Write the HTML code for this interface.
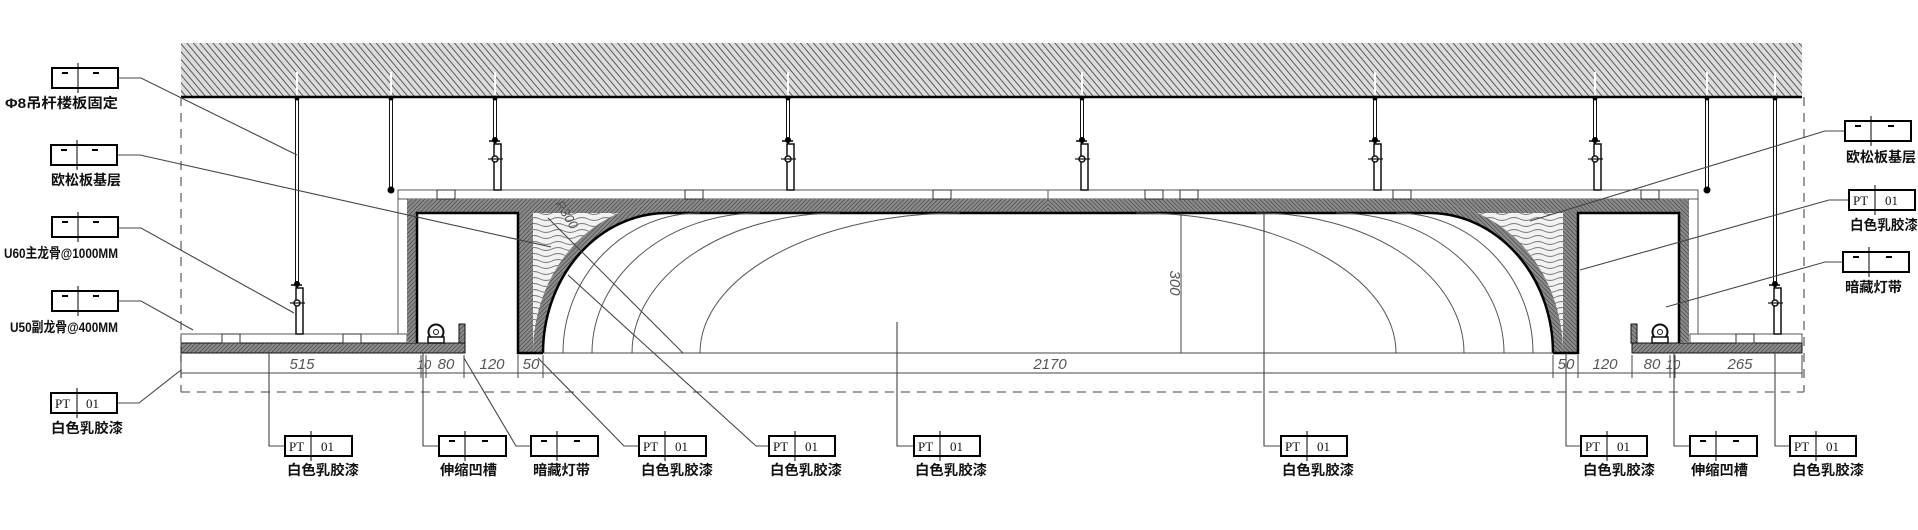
<!DOCTYPE html>
<html><head><meta charset="utf-8"><style>
html,body{margin:0;padding:0;background:#fff;width:1918px;height:530px;overflow:hidden}
svg{display:block}
.lbl{font-family:"Liberation Sans","Noto Sans CJK SC",sans-serif;font-size:14px;fill:#111;font-weight:bold}
.dim{font-family:"Liberation Sans",sans-serif;font-size:15px;fill:#555;font-style:italic}
.tg{font-family:"Liberation Serif",serif;font-size:13px;fill:#111}
.ld{stroke:#444;stroke-width:1.1;fill:none}
</style></head><body>
<svg width="1918" height="530" viewBox="0 0 1918 530" xmlns="http://www.w3.org/2000/svg">
<defs>
<pattern id="slab" width="5" height="5" patternUnits="userSpaceOnUse" patternTransform="rotate(-40)">
<rect width="5" height="5" fill="#dcdcdc"/><line x1="0" y1="0" x2="0" y2="5" stroke="#4a4a4a" stroke-width="1.8"/></pattern>
<pattern id="brd" width="3" height="3" patternUnits="userSpaceOnUse" patternTransform="rotate(45)">
<rect width="3" height="3" fill="#8a8a8a"/><line x1="0" y1="0" x2="0" y2="3" stroke="#333" stroke-width="1"/></pattern>
<pattern id="wood" width="24" height="6" patternUnits="userSpaceOnUse">
<rect width="24" height="6" fill="#f2f2f2"/><path d="M0 3 Q6 0 12 3 T24 3" stroke="#777" stroke-width="0.9" fill="none"/></pattern>
<g id="half">
<rect x="398" y="190" width="650" height="9" fill="#fff" stroke="#555" stroke-width="1"/>
<line x1="398" y1="190" x2="398" y2="334" stroke="#555" stroke-width="1"/>
<rect x="407" y="199" width="10" height="144" fill="url(#brd)"/>
<rect x="407" y="199" width="641" height="14" fill="url(#brd)"/>
<rect x="518" y="213" width="15" height="140" fill="url(#brd)"/>
<rect x="459" y="324" width="6" height="19" fill="url(#brd)" stroke="#111" stroke-width="1"/>
<path d="M533 213 L667 213 L667 203 A134 150 0 0 0 533 353 Z" fill="url(#wood)"/>
<path d="M533 353 A134 150 0 0 1 667 203 L667 213 A124 140 0 0 0 543 353 Z" fill="url(#brd)"/>
<path d="M543 353 A124 140 0 0 1 667 213 L1048 213" stroke="#000" stroke-width="2.5" fill="none"/>
<path d="M417 343 L417 213 L518 213 L518 353 L543 353" stroke="#000" stroke-width="2.5" fill="none"/>
<g stroke="#555" stroke-width="1" fill="none">
<path d="M563 353 A137 140 0 0 1 700 213"/>
<path d="M592 353 A168 140 0 0 1 760 213"/>
<path d="M632 353 A208 140 0 0 1 840 213"/>
<path d="M700 353 A260 140 0 0 1 960 213"/>
</g>
<line x1="543" y1="353" x2="1048" y2="353" stroke="#444" stroke-width="1"/>
<circle cx="436" cy="332" r="7.5" fill="#fff" stroke="#111" stroke-width="2"/>
<circle cx="436" cy="332" r="2.5" fill="#fff" stroke="#111"/>
<rect x="428" y="337" width="16" height="6" fill="#fff" stroke="#111" stroke-width="1.5"/>
<g stroke="#333" stroke-width="1" fill="#fff">
<rect x="437" y="190" width="18" height="9"/><rect x="685" y="190" width="18" height="9"/><rect x="933" y="190" width="18" height="9"/>
</g>
</g>
<g id="brk">
<line x1="0" y1="0" x2="0" y2="6" stroke="#000" stroke-width="2"/>
<circle cx="0" cy="0" r="3" fill="#000"/>
<line x1="-6" y1="1" x2="5" y2="1" stroke="#000" stroke-width="1.5"/>
<rect x="-1" y="4" width="7" height="46" fill="#fff" stroke="#111" stroke-width="1.5"/>
<circle cx="0" cy="19" r="3" fill="#fff" stroke="#111" stroke-width="1.5"/>
<line x1="-7" y1="19" x2="8" y2="19" stroke="#111" stroke-width="1.2"/>
</g>
</defs>

<rect x="181" y="43" width="1621" height="54" fill="url(#slab)"/>
<line x1="181" y1="97" x2="1802" y2="97" stroke="#000" stroke-width="2.5"/>

<!-- low boards -->
<rect x="181" y="334" width="226" height="9" fill="#fff" stroke="#555" stroke-width="1"/>
<rect x="181" y="343" width="284" height="10" fill="url(#brd)" stroke="#111" stroke-width="1"/>
<rect x="1690" y="334" width="112" height="9" fill="#fff" stroke="#555" stroke-width="1"/>
<rect x="1632" y="343" width="170" height="10" fill="url(#brd)" stroke="#111" stroke-width="1"/>
<g stroke="#333" stroke-width="1" fill="#fff">
<rect x="222" y="334" width="18" height="9"/><rect x="343" y="334" width="18" height="9"/><rect x="1736" y="334" width="18" height="9"/>
</g>

<use href="#half"/>
<use href="#half" transform="translate(2096,0) scale(-1,1)"/>
<rect x="1180" y="190" width="18" height="9" fill="#fff" stroke="#333"/>

<g stroke="#111" stroke-width="1" fill="#fff">
<rect x="295.5" y="97" width="3" height="188"/><rect x="389.5" y="97" width="3" height="93"/><rect x="493.5" y="97" width="3" height="44"/>
<rect x="786.5" y="97" width="3" height="44"/><rect x="1080.5" y="97" width="3" height="44"/><rect x="1373.5" y="97" width="3" height="44"/>
<rect x="1593.5" y="97" width="3" height="44"/><rect x="1705.5" y="97" width="3" height="93"/><rect x="1773.5" y="97" width="3" height="188"/>
</g>
<g fill="#fff"><rect x="296" y="72" width="2" height="25"/><rect x="390" y="72" width="2" height="25"/><rect x="494" y="72" width="2" height="25"/><rect x="787" y="72" width="2" height="25"/><rect x="1081" y="72" width="2" height="25"/><rect x="1374" y="72" width="2" height="25"/><rect x="1594" y="72" width="2" height="25"/><rect x="1706" y="72" width="2" height="25"/><rect x="1774" y="72" width="2" height="25"/></g>
<g fill="#000"><circle cx="297" cy="98" r="2.5"/><circle cx="391" cy="98" r="2.5"/><circle cx="495" cy="98" r="2.5"/><circle cx="788" cy="98" r="2.5"/><circle cx="1082" cy="98" r="2.5"/><circle cx="1375" cy="98" r="2.5"/><circle cx="1595" cy="98" r="2.5"/><circle cx="1707" cy="98" r="2.5"/><circle cx="1775" cy="98" r="2.5"/>
<circle cx="391" cy="190" r="3.5"/><circle cx="1707" cy="190" r="3.5"/></g>
<use href="#brk" transform="translate(297,284)"/>
<use href="#brk" transform="translate(495,140)"/>
<use href="#brk" transform="translate(788,140)"/>
<use href="#brk" transform="translate(1082,140)"/>
<use href="#brk" transform="translate(1375,140)"/>
<use href="#brk" transform="translate(1595,140)"/>
<use href="#brk" transform="translate(1775,284)"/>

<g stroke="#666" stroke-width="1.3" stroke-dasharray="9,7" fill="none">
<line x1="181" y1="97" x2="181" y2="392"/><line x1="1804" y1="97" x2="1804" y2="392"/><line x1="181" y1="392" x2="1804" y2="392"/>
</g>
<line x1="181" y1="373" x2="1802" y2="373" stroke="#444" stroke-width="1"/>
<g stroke="#444" stroke-width="1">
<line x1="181" y1="355" x2="181" y2="378"/><line x1="421" y1="355" x2="421" y2="378"/><line x1="426" y1="355" x2="426" y2="378"/><line x1="464" y1="355" x2="464" y2="378"/><line x1="518" y1="355" x2="518" y2="378"/><line x1="543" y1="355" x2="543" y2="378"/><line x1="1553" y1="355" x2="1553" y2="378"/><line x1="1578" y1="355" x2="1578" y2="378"/><line x1="1632" y1="355" x2="1632" y2="378"/><line x1="1670" y1="355" x2="1670" y2="378"/><line x1="1675" y1="355" x2="1675" y2="378"/><line x1="1802" y1="355" x2="1802" y2="378"/>
<line x1="1181" y1="213" x2="1181" y2="353"/>
</g>
<g class="dim" text-anchor="middle">
<text x="302" y="369">515</text><text x="424" y="369" font-size="13">10</text><text x="446" y="369">80</text><text x="492" y="369">120</text><text x="531" y="369">50</text>
<text x="1050" y="369">2170</text>
<text x="1566" y="369">50</text><text x="1605" y="369">120</text><text x="1652" y="369">80</text><text x="1673" y="369" font-size="13">10</text><text x="1740" y="369">265</text>
<text transform="translate(1170,283) rotate(90)">300</text>
<text transform="translate(563,217) rotate(58)" font-size="13">R300</text>
</g>
<line x1="548" y1="218" x2="683" y2="353" stroke="#444" stroke-width="1"/>

<g class="ld">
<polyline points="118,78 141,78 297,155"/>
<polyline points="118,155 140,155 551,247"/>
<polyline points="118,228 141,228 294,313"/>
<polyline points="118,301 141,301 193,330"/>
<polyline points="118,403 139,403 181,370"/>
<polyline points="285,446 269,446 269,353"/>
<polyline points="439,446 423,446 423,353"/>
<polyline points="531,446 516,446 464,358"/>
<polyline points="639,446 624,446 538,358"/>
<polyline points="769,446 756,446 568,275"/>
<polyline points="914,446 897,446 897,322"/>
<polyline points="1281,446 1264,446 1264,213"/>
<polyline points="1581,446 1566,446 1566,353"/>
<polyline points="1690,446 1674,446 1674,353"/>
<polyline points="1790,446 1775,446 1775,353"/>
<polyline points="1845,131 1825,131 1530,221"/>
<polyline points="1849,200 1829,200 1580,270"/>
<polyline points="1843,262 1825,262 1666,307"/>
</g>

<g stroke="#000" fill="#fff">
<rect x="52" y="68" width="66" height="20" stroke-width="2"/>
<rect x="51" y="145" width="66" height="20" stroke-width="2"/>
<rect x="52" y="217" width="66" height="20" stroke-width="2"/>
<rect x="52" y="291" width="66" height="20" stroke-width="2"/>
<rect x="51" y="393" width="66" height="20" stroke-width="2"/>
<rect x="285" y="436" width="67" height="20" stroke-width="2"/>
<rect x="439" y="436" width="67" height="20" stroke-width="2"/>
<rect x="531" y="436" width="67" height="20" stroke-width="2"/>
<rect x="639" y="436" width="67" height="20" stroke-width="2"/>
<rect x="769" y="436" width="66" height="20" stroke-width="2"/>
<rect x="914" y="436" width="66" height="20" stroke-width="2"/>
<rect x="1281" y="436" width="66" height="20" stroke-width="2"/>
<rect x="1581" y="436" width="66" height="20" stroke-width="2"/>
<rect x="1690" y="436" width="67" height="20" stroke-width="2"/>
<rect x="1790" y="436" width="66" height="20" stroke-width="2"/>
<rect x="1845" y="121" width="66" height="20" stroke-width="2"/>
<rect x="1849" y="190" width="66" height="20" stroke-width="2"/>
<rect x="1843" y="252" width="66" height="20" stroke-width="2"/>
</g>
<g stroke="#000" stroke-width="1">
<line x1="78" y1="63" x2="78" y2="93"/><line x1="77" y1="140" x2="77" y2="170"/><line x1="78" y1="212" x2="78" y2="242"/><line x1="78" y1="286" x2="78" y2="316"/><line x1="77" y1="388" x2="77" y2="418"/>
<line x1="311" y1="431" x2="311" y2="461"/><line x1="465" y1="431" x2="465" y2="461"/><line x1="557" y1="431" x2="557" y2="461"/><line x1="665" y1="431" x2="665" y2="461"/><line x1="795" y1="431" x2="795" y2="461"/><line x1="940" y1="431" x2="940" y2="461"/><line x1="1307" y1="431" x2="1307" y2="461"/><line x1="1607" y1="431" x2="1607" y2="461"/><line x1="1716" y1="431" x2="1716" y2="461"/><line x1="1816" y1="431" x2="1816" y2="461"/>
<line x1="1871" y1="116" x2="1871" y2="146"/><line x1="1875" y1="185" x2="1875" y2="215"/><line x1="1869" y1="247" x2="1869" y2="277"/>
</g>
<g stroke="#000" stroke-width="2">
<line x1="62" y1="73" x2="68" y2="73"/><line x1="93" y1="73" x2="99" y2="73"/>
<line x1="61" y1="150" x2="67" y2="150"/><line x1="92" y1="150" x2="98" y2="150"/>
<line x1="62" y1="222" x2="68" y2="222"/><line x1="93" y1="222" x2="99" y2="222"/>
<line x1="62" y1="296" x2="68" y2="296"/><line x1="93" y1="296" x2="99" y2="296"/>
<line x1="449" y1="441" x2="455" y2="441"/><line x1="482" y1="441" x2="488" y2="441"/>
<line x1="541" y1="441" x2="547" y2="441"/><line x1="574" y1="441" x2="580" y2="441"/>
<line x1="1700" y1="441" x2="1706" y2="441"/><line x1="1733" y1="441" x2="1739" y2="441"/>
<line x1="1855" y1="126" x2="1861" y2="126"/><line x1="1888" y1="126" x2="1894" y2="126"/>
<line x1="1853" y1="257" x2="1859" y2="257"/><line x1="1886" y1="257" x2="1892" y2="257"/>
</g>
<g class="tg">
<text x="55" y="408">PT</text><text x="86" y="408">01</text>
<text x="289" y="451">PT</text><text x="321" y="451">01</text>
<text x="643" y="451">PT</text><text x="675" y="451">01</text>
<text x="773" y="451">PT</text><text x="805" y="451">01</text>
<text x="918" y="451">PT</text><text x="950" y="451">01</text>
<text x="1285" y="451">PT</text><text x="1317" y="451">01</text>
<text x="1585" y="451">PT</text><text x="1617" y="451">01</text>
<text x="1794" y="451">PT</text><text x="1826" y="451">01</text>
<text x="1853" y="205">PT</text><text x="1885" y="205">01</text>
</g>
<g class="lbl">
<text x="5" y="108" textLength="113" lengthAdjust="spacingAndGlyphs">Φ8吊杆楼板固定</text>
<text x="51" y="185" textLength="70" lengthAdjust="spacingAndGlyphs">欧松板基层</text>
<text x="4" y="258" textLength="114" lengthAdjust="spacingAndGlyphs">U60主龙骨@1000MM</text>
<text x="10" y="332" textLength="108" lengthAdjust="spacingAndGlyphs">U50副龙骨@400MM</text>
<text x="51" y="433" textLength="72" lengthAdjust="spacingAndGlyphs">白色乳胶漆</text>
<text x="287" y="475" textLength="72" lengthAdjust="spacingAndGlyphs">白色乳胶漆</text>
<text x="440" y="475" textLength="57" lengthAdjust="spacingAndGlyphs">伸缩凹槽</text>
<text x="533" y="475" textLength="57" lengthAdjust="spacingAndGlyphs">暗藏灯带</text>
<text x="641" y="475" textLength="72" lengthAdjust="spacingAndGlyphs">白色乳胶漆</text>
<text x="770" y="475" textLength="72" lengthAdjust="spacingAndGlyphs">白色乳胶漆</text>
<text x="915" y="475" textLength="72" lengthAdjust="spacingAndGlyphs">白色乳胶漆</text>
<text x="1282" y="475" textLength="72" lengthAdjust="spacingAndGlyphs">白色乳胶漆</text>
<text x="1583" y="475" textLength="72" lengthAdjust="spacingAndGlyphs">白色乳胶漆</text>
<text x="1691" y="475" textLength="57" lengthAdjust="spacingAndGlyphs">伸缩凹槽</text>
<text x="1792" y="475" textLength="72" lengthAdjust="spacingAndGlyphs">白色乳胶漆</text>
<text x="1846" y="162" textLength="70" lengthAdjust="spacingAndGlyphs">欧松板基层</text>
<text x="1850" y="230" textLength="68" lengthAdjust="spacingAndGlyphs">白色乳胶漆</text>
<text x="1845" y="292" textLength="57" lengthAdjust="spacingAndGlyphs">暗藏灯带</text>
</g>
</svg>
</body></html>
